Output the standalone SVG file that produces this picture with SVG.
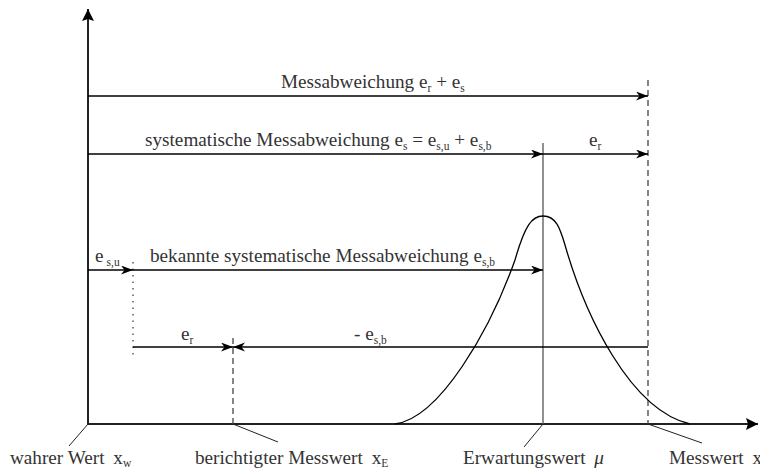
<svg xmlns="http://www.w3.org/2000/svg" width="760" height="470" viewBox="0 0 760 470">
<defs>
<marker id="arr" markerWidth="14" markerHeight="10" refX="12" refY="4.5" orient="auto" markerUnits="userSpaceOnUse">
<path d="M0,0 L12,4.5 L0,9 L3.5,4.5 Z" fill="#000"/>
</marker>
<marker id="axarr" markerWidth="14" markerHeight="14" refX="12" refY="6" orient="auto" markerUnits="userSpaceOnUse">
<path d="M0,0 L12,6 L0,12 L2,6 Z" fill="#000"/>
</marker>
</defs>
<style>
text{font-family:"Liberation Serif","DejaVu Serif",serif;font-size:19.2px;fill:#333}
.sub{font-size:11.5px}
.ln{stroke:#000;stroke-width:1.3;fill:none}
.ax{stroke:#222;stroke-width:2;fill:none}
.dash{stroke:#444;stroke-width:1.3;stroke-dasharray:6,4;fill:none}
.dot{stroke:#444;stroke-width:1.3;stroke-dasharray:1.5,5;fill:none}
.lead{stroke:#222;stroke-width:1;fill:none}
</style>
<g id="axes">
<line class="ax" x1="88" y1="425" x2="88" y2="9" marker-end="url(#axarr)"/>
<line class="ax" x1="87" y1="424" x2="758" y2="424" marker-end="url(#axarr)"/>
</g>
<g id="guides">
<line class="dash" x1="648" y1="80" x2="648" y2="424"/>
<line class="dash" x1="233" y1="338" x2="233" y2="424"/>
<line class="dot" x1="133" y1="262" x2="133" y2="358"/>
<line stroke="#555" stroke-width="1.3" x1="543" y1="143" x2="543" y2="424"/>
</g>
<g id="curve">
<path class="ln" stroke-width="1.6" d="M395,424 C440,418 490,330 515,260 C525,225 532,216 543,216 C556,216 560,228 565,245 C585,315 630,410 690,424"/>
</g>
<g id="connectors">
<line class="ln" x1="88" y1="96" x2="648" y2="96" marker-end="url(#arr)"/>
<line class="ln" x1="88" y1="154" x2="543" y2="154" marker-end="url(#arr)"/>
<line class="ln" x1="543" y1="154" x2="648" y2="154" marker-end="url(#arr)"/>
<line class="ln" x1="88" y1="270" x2="133" y2="270" marker-end="url(#arr)"/>
<line class="ln" x1="133" y1="270" x2="543" y2="270" marker-end="url(#arr)"/>
<line class="ln" x1="133" y1="347" x2="233" y2="347" marker-end="url(#arr)"/>
<line class="ln" x1="648" y1="347" x2="233" y2="347" marker-end="url(#arr)"/>
<line class="lead" x1="88" y1="424" x2="69" y2="446"/>
<line class="lead" x1="233" y1="424" x2="278" y2="442"/>
<line class="lead" x1="543" y1="424" x2="524" y2="447"/>
<line class="lead" x1="648" y1="424" x2="702" y2="443"/>
</g>
<g id="labels">
<text x="281" y="88">Messabweichung e<tspan class="sub" dy="4">r</tspan><tspan dy="-4"> + e</tspan><tspan class="sub" dy="4">s</tspan></text>
<text x="145" y="146">systematische Messabweichung e<tspan class="sub" dy="4">s</tspan><tspan dy="-4"> = e</tspan><tspan class="sub" dy="4">s,u</tspan><tspan dy="-4"> + e</tspan><tspan class="sub" dy="4">s,b</tspan></text>
<text x="589" y="146">e<tspan class="sub" dy="4">r</tspan></text>
<text x="95" y="262">e<tspan class="sub" dx="3" dy="4">s,u</tspan></text>
<text x="150" y="262">bekannte systematische Messabweichung e<tspan class="sub" dy="4">s,b</tspan></text>
<text x="181" y="340">e<tspan class="sub" dy="4">r</tspan></text>
<text x="354" y="340">- e<tspan class="sub" dy="4">s,b</tspan></text>
<text x="10" y="464">wahrer Wert <tspan dx="4">x</tspan><tspan class="sub" dy="3">w</tspan></text>
<text x="195" y="464">berichtigter Messwert <tspan dx="4">x</tspan><tspan class="sub" dy="3">E</tspan></text>
<text x="463" y="464">Erwartungswert <tspan dx="4" font-style="italic">μ</tspan></text>
<text x="669" y="464">Messwert <tspan dx="4">x</tspan></text>
</g>
</svg>
